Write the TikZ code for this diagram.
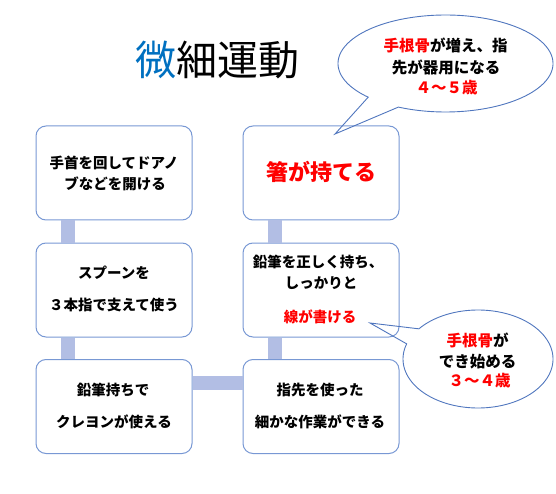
\documentclass[tikz,border=0pt]{standalone}
\usepackage{fontspec}
\newfontfamily\jp{Noto Sans CJK JP}
\definecolor{boxline}{RGB}{120,152,212}
\definecolor{barcol}{RGB}{178,190,228}
\definecolor{calline}{RGB}{80,118,190}
\definecolor{titleblue}{RGB}{0,112,192}
\definecolor{jred}{RGB}{255,0,0}
\tikzset{
 box/.style={draw=boxline, fill=white, rounded corners=10pt, minimum width=156pt, minimum height=94pt, line width=1pt},
 bar/.style={draw=barcol, line width=14pt},
 txt/.style={font=\jp\bfseries\fontsize{14.5}{17}\selectfont, inner sep=0pt},
 ctxt/.style={font=\jp\bfseries\fontsize{15.5}{18}\selectfont, inner sep=0pt},
 callout/.style={draw=calline, line width=0.9pt, line join=miter},
}
\begin{document}
\begin{tikzpicture}[x=1pt,y=-1pt]
\useasboundingbox (0,0) rectangle (556,494);
% title
\node[inner sep=0pt, font=\jp\fontsize{41}{46}\selectfont] (title) at (217,60) {\textcolor{titleblue}{微}細運動};
% boxes
\node[box] (A) at (114,173) {};
\node[box] (B) at (321,173) {};
\node[box] (C) at (114,290) {};
\node[box] (D) at (321,290) {};
\node[box] (E) at (114,406.5) {};
\node[box] (F) at (321,406.5) {};
% bars
\draw[bar] ([xshift=-46pt]A.south) -- ([xshift=-46pt]C.north);
\draw[bar] ([xshift=-46pt]C.south) -- ([xshift=-46pt]E.north);
\draw[bar] ([xshift=-46.5pt]B.south) -- ([xshift=-46.5pt]D.north);
\draw[bar] ([xshift=-46.5pt]D.south) -- ([xshift=-46.5pt]F.north);
\draw[bar] ([yshift=23.5pt]E.east) -- ([yshift=23.5pt]F.west);
% box texts
\node[txt] (a1) at (114,163) {手首を回してドアノ};
\node[txt] (a2) at (115,184) {ブなどを開ける};
\node[inner sep=0pt, font=\jp\bfseries\fontsize{22}{26}\selectfont, text=jred] (b1) at (321,172) {箸が持てる};
\node[txt] (c1) at (114,273) {スプーンを};
\node[txt] (c2) at (114,305) {３本指で支えて使う};
\node[txt] (d1) at (318,262) {鉛筆を正しく持ち、};
\node[txt] (d2) at (321,283) {しっかりと};
\node[txt, text=jred] (d3) at (320,317) {線が書ける};
\node[txt] (e1) at (113,390) {鉛筆持ちで};
\node[txt] (e2) at (114,422) {クレヨンが使える};
\node[txt] (f1) at (320,390) {指先を使った};
\node[txt] (f2) at (320,422) {細かな作業ができる};
% callouts
\coordinate (tipT) at (335,134);
\coordinate (tipB) at (370,323);
\draw[callout] plot[domain=136:476, samples=150] ({445.5+107.5*cos(\x)},{63.5+48.5*sin(\x)}) -- (tipT) -- cycle;
\draw[callout] plot[domain=198:-142, samples=150] ({478+75*cos(\x)},{359+49*sin(\x)}) -- (tipB) -- cycle;
\node[ctxt] (t1) at (445.5,45) {\textcolor{jred}{手根骨}が増え、指};
\node[ctxt] (t2) at (446,67) {先が器用になる};
\node[ctxt, text=jred] (t3) at (446.5,88) {４～５歳};
\node[ctxt] (u1) at (477.5,340) {\textcolor{jred}{手根骨}が};
\node[ctxt] (u2) at (477.5,362) {でき始める};
\node[ctxt, text=jred] (u3) at (479.5,381) {３～４歳};
\end{tikzpicture}
\end{document}
